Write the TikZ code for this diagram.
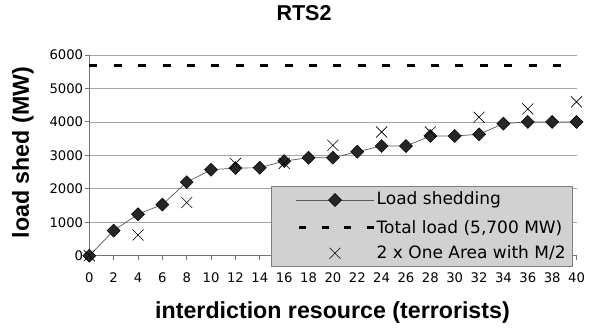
\documentclass[tikz,border=0pt]{standalone}
\usepackage{fontspec}
\setmainfont{DejaVu Sans}
\newfontfamily\headfont{Liberation Sans}
\usetikzlibrary{plotmarks}

\begin{document}
\begin{tikzpicture}[x=1bp,y=1bp,
    gridline/.style={color=black!35,line width=0.8bp},
    axisline/.style={color=black!55,line width=0.9bp},
    ticklabel/.style={inner sep=0pt,font=\fontsize{13.2bp}{14bp}\selectfont},
    titlelabel/.style={inner sep=0pt,font=\headfont\fontsize{21.5bp}{22bp}\selectfont\bfseries},
    headlabel/.style={inner sep=0pt,font=\headfont\fontsize{23.2bp}{24bp}\selectfont\bfseries},
    legendtext/.style={inner sep=0pt,anchor=west,font=\fontsize{17bp}{18bp}\selectfont},
    shedline/.style={color=black!65,line width=0.7bp},
    totalline/.style={line width=3bp,dash pattern=on 8bp off 16.4bp},
    shedmarks/.style={mark=square*,mark size=4.6bp,mark options={rotate=45,fill=black!85,draw=black,solid,line width=0.5bp}},
    areamarks/.style={mark=x,mark size=7.8bp,mark options={line width=0.6bp}}]
  \useasboundingbox (0,0) rectangle (605,331);
  \node[titlelabel] (title) at (304,317.5) {RTS2};
  \node[headlabel,rotate=90] (ylabel) at (23,178.5) {load shed (MW)};
  \node[headlabel] (xlabel) at (332.5,19) {interdiction resource (terrorists)};
  \begin{scope}[shift={(89.3,75.3)},x=12.18bp,y=0.03345bp]
    % grid and axes
    \foreach \y in {1000,2000,...,6000}
      \draw[gridline] (0,\y) -- (40,\y);
    \foreach \y in {0,1000,...,6000} {
      \draw[axisline] (0,\y) -- ++(-4bp,0);
      \path (0,\y) ++(-6bp,0) node[ticklabel,anchor=east] (ytick\y) {\y};
    }
    \foreach \x in {0,2,...,40} {
      \draw[axisline] (\x,0) -- ++(0,-4bp);
      \path (\x,0) ++(0,-16.5bp) node[ticklabel,anchor=north] (xtick\x) {\x};
    }
    \draw[axisline] (0,0) -- (40,0);
    \draw[axisline] (0,0) -- (0,6000);
    % total load
    \draw[totalline] (0,5700) -- (40,5700);
    % load shedding
    \draw[shedline] plot[shedmarks] coordinates {(0,0) (2,750) (4,1240) (6,1530) (8,2200) (10,2570) (12,2620) (14,2630) (16,2830) (18,2930) (20,2930) (22,3110) (24,3280) (26,3280) (28,3580) (30,3580) (32,3630) (34,3950) (36,4000) (38,4000) (40,4000)};
    % 2 x one area with M/2
    \draw plot[only marks,areamarks] coordinates {(0,0) (4,620) (8,1590) (12,2760) (16,2760) (20,3300) (24,3700) (28,3700) (32,4140) (36,4390) (40,4600)};
  \end{scope}
  % legend
  \draw[fill=black!18,draw=black!50,line width=0.8bp] (271.7,64.3) rectangle (572.7,144.3);
  \draw[shedline] (296,131) -- (374,131);
  \draw plot[shedmarks] coordinates {(335,131)};
  \draw[totalline,dash pattern=on 7bp off 15.7bp,dash phase=-3bp] (296,103.3) -- (374,103.3);
  \draw plot[only marks,areamarks] coordinates {(335,77.7)};
  \node[legendtext] (shedtext) at (376.5,131) {Load shedding};
  \node[legendtext] (totaltext) at (376.5,103.3) {Total load (5,700 MW)};
  \node[legendtext] (areatext) at (376.5,77.7) {2 x One Area with M/2};
\end{tikzpicture}
\end{document}
